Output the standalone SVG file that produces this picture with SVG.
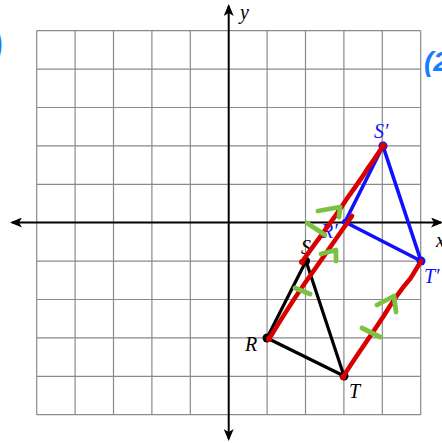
<svg xmlns="http://www.w3.org/2000/svg" width="442" height="443" viewBox="0 0 442 443">
<defs>
<style>
.grid{stroke:#8a8a8a;stroke-width:1.2;fill:none}
.axis{stroke:#000;stroke-width:2;fill:none}
.blk{stroke:#000;stroke-width:3.2;fill:none;stroke-linejoin:round}
.blu{stroke:#1010ff;stroke-width:3.6;fill:none;stroke-linejoin:round}
.red{stroke:#d80000;stroke-width:4.6;fill:none;stroke-linecap:round;stroke-linejoin:round}
.grn{stroke:#7cc242;stroke-width:4.8;fill:none;stroke-linecap:round;stroke-linejoin:round}
.lbl{font-family:"Liberation Serif",serif;font-style:italic;font-size:20px}
.big{font-family:"Liberation Sans",sans-serif;font-weight:bold;font-style:italic;fill:#1a7cff}
</style>
<marker id="ah" viewBox="0 0 12 10" refX="10" refY="5" markerWidth="12" markerHeight="10" markerUnits="userSpaceOnUse" orient="auto">
<path d="M0,0 L12,5 L0,10 L3,5 Z" fill="#000"/>
</marker>
</defs>
<rect width="442" height="443" fill="#fff"/>
<g id="grid" class="grid">
<path d="M36.7,30.7V414.7M75.1,30.7V414.7M113.5,30.7V414.7M151.9,30.7V414.7M190.3,30.7V414.7M267.1,30.7V414.7M305.5,30.7V414.7M343.9,30.7V414.7M382.3,30.7V414.7M420.7,30.7V414.7"/>
<path d="M36.7,30.7H420.7M36.7,69.1H420.7M36.7,107.5H420.7M36.7,145.9H420.7M36.7,184.3H420.7M36.7,261.1H420.7M36.7,299.5H420.7M36.7,337.9H420.7M36.7,376.3H420.7M36.7,414.7H420.7"/>
</g>
<g id="axes">
<line class="axis" x1="228.7" y1="222.5" x2="12" y2="222.5" marker-end="url(#ah)"/>
<line class="axis" x1="228.7" y1="222.5" x2="441" y2="222.5" marker-end="url(#ah)"/>
<line class="axis" x1="228.7" y1="222.5" x2="228.7" y2="6" marker-end="url(#ah)"/>
<line class="axis" x1="228.7" y1="222.5" x2="228.7" y2="439" marker-end="url(#ah)"/>
<text class="lbl" x="240" y="19" font-size="18">y</text>
<text class="lbl" x="436" y="247" font-size="18">x</text>
</g>
<g id="triangle-RST">
<path class="blk" d="M267,338 L306,261 L344,376 Z"/>
<circle cx="267" cy="338" r="4.5" fill="#000"/>
<circle cx="306" cy="261" r="4" fill="#000"/>
<circle cx="344" cy="376" r="4.5" fill="#000"/>
<text class="lbl" x="245" y="351">R</text>
<text class="lbl" x="301" y="254">S</text>
<text class="lbl" x="349" y="398">T</text>
</g>
<g id="triangle-image">
<path class="blu" d="M345,222 L383,146 L421,261 Z"/>
<circle cx="383" cy="146" r="4.5" fill="#1010ff"/>
<circle cx="421" cy="261" r="4.5" fill="#1010ff"/>
<circle cx="345" cy="222" r="3" fill="#1010ff"/>
<text class="lbl" x="374" y="138" fill="#1010ff">S′</text>
<text class="lbl" x="424" y="283" fill="#1010ff">T′</text>
<text class="lbl" x="321" y="238" fill="#1010ff" font-size="17">R′</text>
</g>
<g id="connectors">
<path class="red" d="M302,262 C318,239 330,225 348,197 C356,186 362,178 368,168 C374,160 379,152 383,146"/>
<path class="red" d="M269,339 C282,318 296,295 310,276 C324,256 338,236 352,216"/>
<path class="red" d="M343,377 C356,356 368,340 383,317 C394,299 402,288 410,279 C414,273 418,266 421,261"/>
<circle cx="383" cy="146" r="3.5" fill="#d80000"/>
<circle cx="302" cy="262" r="3" fill="#d80000"/>
<circle cx="269" cy="339" r="3" fill="#d80000"/>
<circle cx="343" cy="377" r="3" fill="#d80000"/>
<path class="grn" d="M318,211 L340,207 L339,217"/>
<path class="grn" d="M307,223 L325,235"/>
<path class="grn" d="M321,254 L336,250 L336,261"/>
<path class="grn" d="M295,288 L310,294"/>
<path class="grn" d="M377,305 L394,296 L396,312"/>
<path class="grn" d="M362,328 L380,337"/>
</g>
<g id="edge-text">
<text class="big" x="-12" y="62" font-size="44">)</text>
<text class="big" x="424" y="71" font-size="28">(2</text>
</g>
</svg>
